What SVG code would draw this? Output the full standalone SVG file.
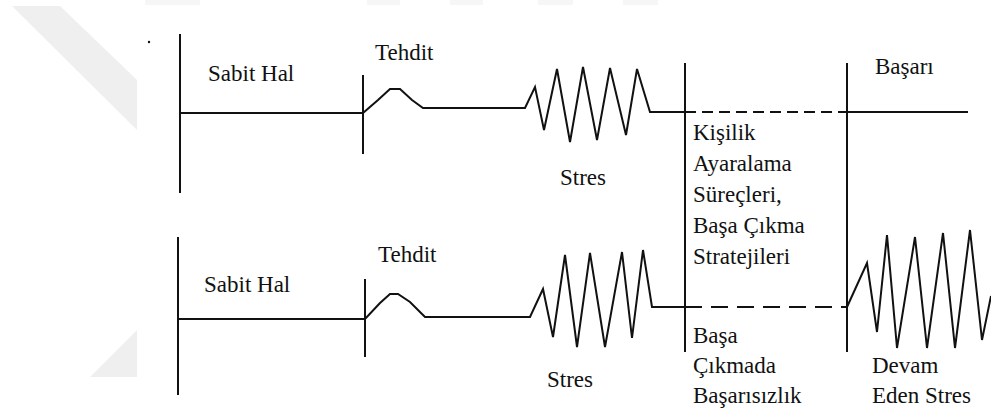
<svg xmlns="http://www.w3.org/2000/svg" width="991" height="415" viewBox="0 0 991 415">
<style>
.ln{fill:none;stroke:#111;stroke-width:2;stroke-linejoin:miter;stroke-linecap:butt}
.d1{stroke-dasharray:11 6}
.d2{stroke-dasharray:17 9}
.lb{font-size:23px;fill:#111}
.wm{fill:#efefef;stroke:none}
</style>
<rect width="991" height="415" fill="#fff"/>
<g id="watermark">
<polygon class="wm" points="12,6 60,6 137,80 137,130"/>
<polygon class="wm" points="137,330 137,377 90,377"/>
<rect x="145" y="0" width="55" height="5" fill="#f6f6f6"/>
<rect x="367" y="0" width="33" height="5" fill="#f6f6f6"/>
<rect x="450" y="0" width="33" height="5" fill="#f6f6f6"/>
<rect x="538" y="0" width="35" height="5" fill="#f6f6f6"/>
<rect x="623" y="0" width="35" height="5" fill="#f6f6f6"/>
</g>
<circle cx="149" cy="42" r="1.2" fill="#111"/>
<g id="connectors">
<path class="ln" d="M180,113 H363 L378,100 L390,89 H400 L412,100 L423,108 H525 L535,87 L544,130 L557,69 L570,142 L583,67 L597,140 L610,68 L626,135 L637,69 L650,112 H685"/>
<path class="ln d1" d="M685,112 H847"/>
<path class="ln" d="M847,112 H968"/>
<path class="ln" d="M178,319 H365 L380,303 L390,294 H398 L410,302 L425,317 H530 L543,289 L553,337 L565,255 L577,347 L590,253 L605,347 L622,252 L632,338 L643,250 L652,307 H685"/>
<path class="ln d2" d="M685,307 H847"/>
<path class="ln" d="M847,307 L867,263 L877,332 L887,235 L897,348 L915,237 L927,348 L943,233 L955,348 L970,230 L982,340 L991,296"/>
</g>
<g id="axis-top-left"><path class="ln" d="M180,34 V193"/></g>
<g id="axis-top-threat"><path class="ln" d="M363,75 V154"/></g>
<g id="axis-bottom-left"><path class="ln" d="M178,237 V395"/></g>
<g id="axis-bottom-threat"><path class="ln" d="M365,279 V357"/></g>
<g id="axis-coping"><path class="ln" d="M685,63 V352"/></g>
<g id="axis-outcome"><path class="ln" d="M847,63 V352"/></g>
<g id="labels" font-family="Liberation Serif, DejaVu Serif, Times New Roman, serif">
<g id="label-sabit-top"><text class="lb" x="208" y="81">Sabit Hal</text></g>
<g id="label-tehdit-top"><text class="lb" x="375" y="60">Tehdit</text></g>
<g id="label-stres-top"><text class="lb" x="560" y="185">Stres</text></g>
<g id="label-basari"><text class="lb" x="875" y="74">Başarı</text></g>
<g id="label-coping">
<text class="lb" x="693" y="140">Kişilik</text>
<text class="lb" x="693" y="171">Ayaralama</text>
<text class="lb" x="693" y="202">Süreçleri,</text>
<text class="lb" x="693" y="233">Başa Çıkma</text>
<text class="lb" x="693" y="264">Stratejileri</text>
</g>
<g id="label-sabit-bottom"><text class="lb" x="204" y="292">Sabit Hal</text></g>
<g id="label-tehdit-bottom"><text class="lb" x="378" y="262">Tehdit</text></g>
<g id="label-stres-bottom"><text class="lb" x="547" y="387">Stres</text></g>
<g id="label-failure">
<text class="lb" x="693" y="343">Başa</text>
<text class="lb" x="693" y="373">Çıkmada</text>
<text class="lb" x="693" y="403">Başarısızlık</text>
</g>
<g id="label-continuing">
<text class="lb" x="872" y="373">Devam</text>
<text class="lb" x="872" y="403">Eden Stres</text>
</g>
</g>
</svg>
